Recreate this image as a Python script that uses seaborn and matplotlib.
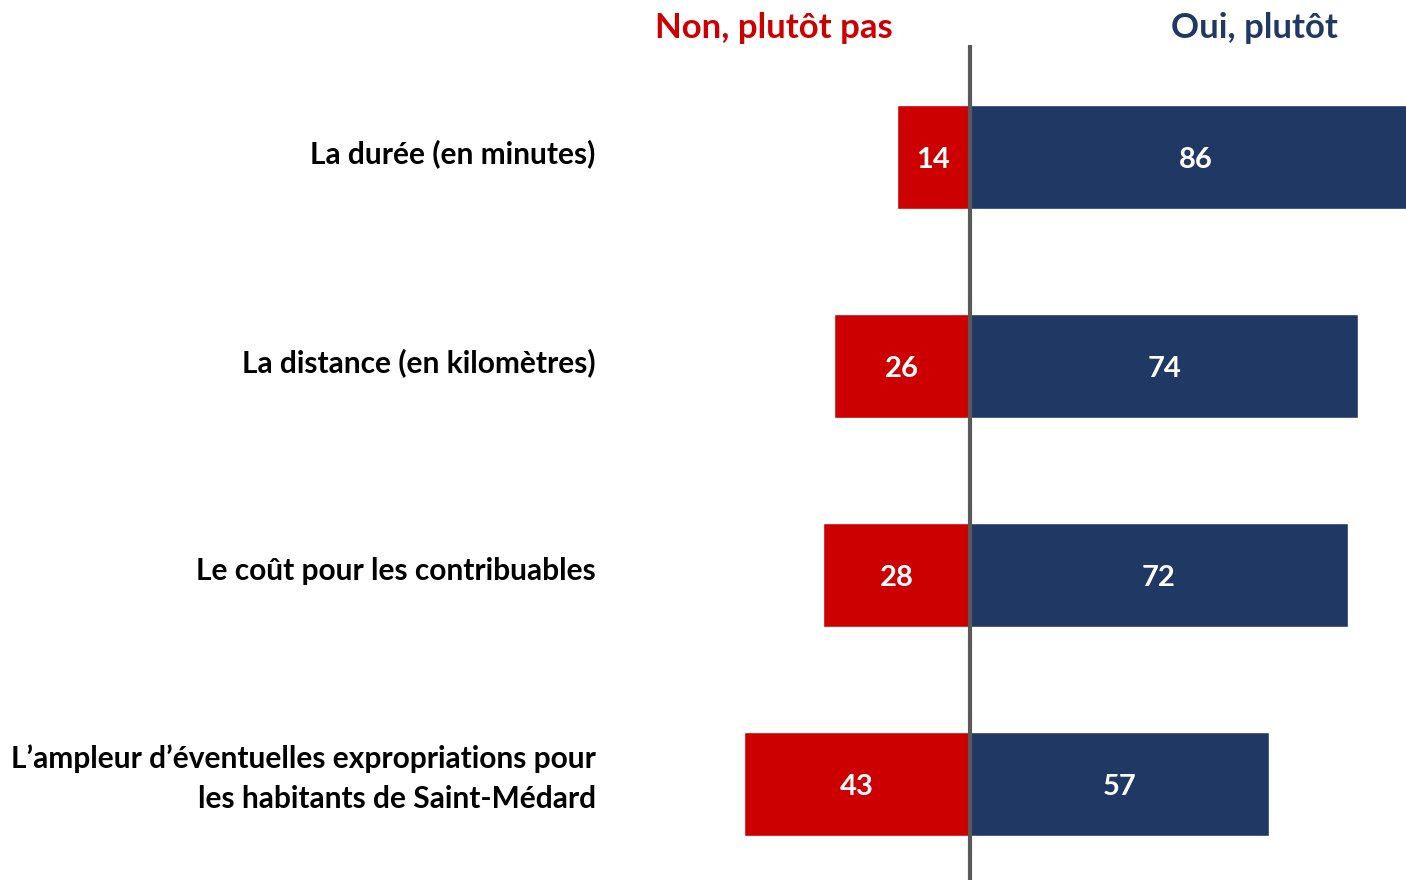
import matplotlib
matplotlib.use("Agg")
import matplotlib.pyplot as plt
import matplotlib.transforms as mtransforms
import seaborn as sns
import pandas as pd

categories = [
    "La durée (en minutes)",
    "La distance (en kilomètres)",
    "Le coût pour les contribuables",
    "L’ampleur d’éventuelles expropriations pour\nles habitants de Saint-Médard",
]
non_values = [14, 26, 28, 43]
oui_values = [86, 74, 72, 57]

ROUGE = "#CC0000"
BLEU = "#203864"

sns.set_theme(style="white")
plt.rcParams["font.family"] = ["Lato", "DejaVu Sans"]

df = pd.DataFrame({"cat": categories, "non": [-v for v in non_values], "oui": oui_values})

fig = plt.figure(figsize=(14.06, 8.8), dpi=100)
ax = fig.add_axes([600 / 1406, 0, 806 / 1406, 835 / 880])

sns.barplot(data=df, x="non", y="cat", orient="h", color=ROUGE, width=0.5,
            saturation=1, ax=ax)
sns.barplot(data=df, x="oui", y="cat", orient="h", color=BLEU, width=0.5,
            saturation=1, ax=ax)

ax.set_xlim(-70.5, 83.05)
ax.set_ylim(3.46, -0.536)
ax.axvline(0, color="#595959", lw=3, zorder=5)

# valeurs dans les barres, un peu plus bas que le centre
bas = mtransforms.ScaledTranslation(0, -3 / 100, fig.dpi_scale_trans)
for i, (n, o) in enumerate(zip(non_values, oui_values)):
    ax.text(-n / 2, i, str(n), ha="center", va="center", color="white",
            fontsize=21, fontweight="bold", transform=ax.transData + bas)
    ax.text(o / 2, i, str(o), ha="center", va="center", color="white",
            fontsize=21, fontweight="bold", transform=ax.transData + bas)

ax.set_xlabel("")
ax.set_ylabel("")
ax.set_xticks([])
ax.tick_params(axis="y", length=0, pad=3)
for lab in ax.get_yticklabels():
    haut = 14 if "\n" in lab.get_text() else 6
    decal = mtransforms.ScaledTranslation(0, haut / 100, fig.dpi_scale_trans)
    lab.set_fontsize(21.5)
    lab.set_fontweight("bold")
    lab.set_color("black")
    lab.set_ha("right")
    lab.set_multialignment("right")
    lab.set_linespacing(1.53)
    lab.set_transform(lab.get_transform() + decal)
sns.despine(ax=ax, left=True, bottom=True)

fig.text(774 / 1406, 1 - 28 / 880, "Non, plutôt pas", ha="center", va="center",
         color=ROUGE, fontsize=25, fontweight="bold")
fig.text(1254 / 1406, 1 - 28 / 880, "Oui, plutôt", ha="center", va="center",
         color=BLEU, fontsize=25, fontweight="bold")

fig.savefig("out.png", dpi=100)
